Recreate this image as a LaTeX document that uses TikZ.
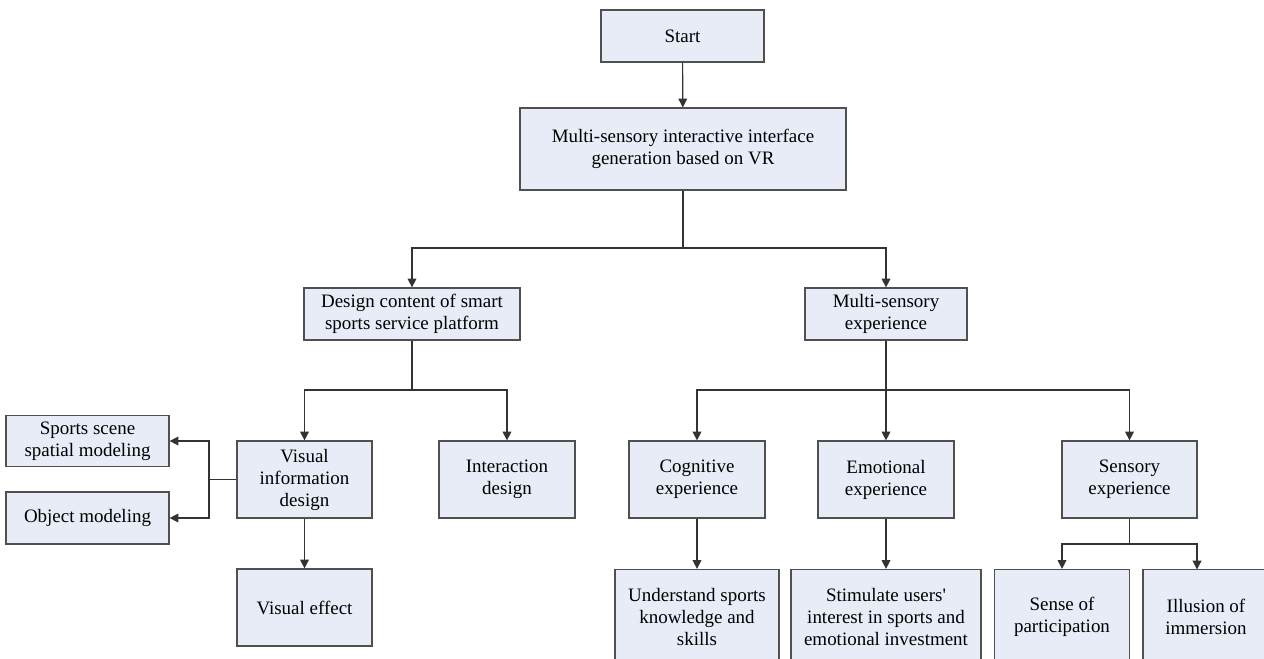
\documentclass[tikz,border=0pt]{standalone}
\usepackage{fontspec}
\setmainfont{Liberation Serif}
\usetikzlibrary{arrows.meta}
\definecolor{boxfill}{HTML}{E7ECF6}
\definecolor{boxline}{HTML}{505050}

\tikzset{
  blk/.style={draw=boxline, fill=boxfill, line width=0.7pt, align=center,
    inner sep=1pt, font=\fontsize{10.8}{12.5}\selectfont},
  wh/.style 2 args={minimum width=#1*0.02cm, minimum height=#2*0.02cm},
  lnk/.style={line width=0.65pt, draw=black!80},
  arr/.style={lnk, -{Triangle[length=5pt,width=5pt]}}
}

\begin{document}
\begin{tikzpicture}[x=0.02cm, y=-0.02cm]
  % page frame, in pixels of the original
  \useasboundingbox (0,0) rectangle (1264,659);

  % top of the tree
  \node[blk, wh={163}{52}] (start) at (682.5,36) {Start};
  \node[blk, wh={326}{82}] (msi) at (683,149)
    {Multi-sensory interactive interface\\generation based on VR};

  % second level
  \node[blk, wh={216}{52}] (design) at (412,314)
    {Design content of smart\\sports service platform};
  \node[blk, wh={162}{52}] (mse) at (886,314) {Multi-sensory\\experience};

  % design branch
  \node[blk, wh={163}{51}] (scene) at (87.5,441) {Sports scene\\spatial modeling};
  \node[blk, wh={163}{52}] (obj) at (87.5,518) {Object modeling};
  \node[blk, wh={135}{77}] (visinfo) at (304.5,479.5) {Visual\\information\\design};
  \node[blk, wh={136}{77}] (inter) at (507,479.5) {Interaction\\design};
  \node[blk, wh={135}{77}] (viseff) at (304.5,607.5) {Visual effect};

  % experience branch
  \node[blk, wh={136}{77}] (cog) at (697,479.5) {Cognitive\\experience};
  \node[blk, wh={136}{77}] (emo) at (886,479.5) {Emotional\\experience};
  \node[blk, wh={135}{77}] (sens) at (1129.5,479.5) {Sensory\\experience};

  % bottom row (runs off the page)
  \node[blk, wh={164}{95}] (und) at (697,617)
    {Understand sports\\knowledge and\\skills};
  \node[blk, wh={190}{95}] (stim) at (886,617)
    {Stimulate users\textquotesingle\\interest in sports and\\emotional investment};
  \node[blk, wh={135}{95}] (part) at (1062,617) {Sense of\\participation};
  \node[blk, wh={126}{95}] (illu) at (1206,617) {Illusion of\\immersion};

  % junctions
  \coordinate (j1) at (683,248);
  \coordinate (j2) at (412,390);
  \coordinate (j3) at (209,479.5);
  \coordinate (j4) at (886,390);
  \coordinate (j5) at (1129.5,544);
  \coordinate (illin) at (1197,569.5);

  % connectors
  \draw[arr] (start) -- (msi);
  \draw[lnk] (msi.south) -- (j1);
  \draw[arr] (j1) -| (design.north);
  \draw[arr] (j1) -| (mse.north);

  \draw[lnk] (design.south) -- (j2);
  \draw[arr] (j2) -| (visinfo.north);
  \draw[arr] (j2) -| (inter.north);
  \draw[lnk] (visinfo.west) -- (j3);
  \draw[arr] (j3) |- (scene.east);
  \draw[arr] (j3) |- (obj.east);
  \draw[arr] (visinfo) -- (viseff);

  \draw[lnk] (mse.south) -- (j4);
  \draw[arr] (j4) -| (cog.north);
  \draw[arr] (j4) -- (emo.north);
  \draw[arr] (j4) -| (sens.north);
  \draw[arr] (cog) -- (und);
  \draw[arr] (emo) -- (stim);

  \draw[lnk] (sens.south) -- (j5);
  \draw[arr] (j5) -| (part.north);
  \draw[arr] (j5) -| (illin);
\end{tikzpicture}
\end{document}
